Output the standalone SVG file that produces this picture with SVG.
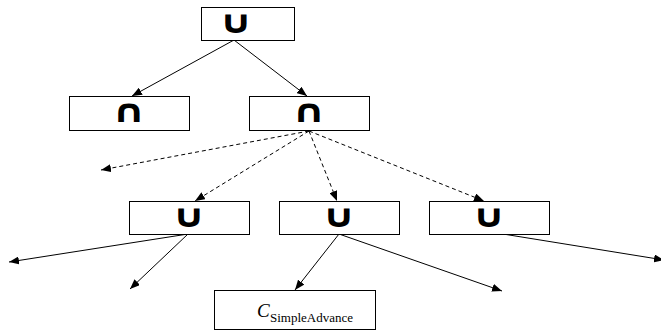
<svg xmlns="http://www.w3.org/2000/svg" width="661" height="334" viewBox="0 0 661 334">
  <style>
    .box { fill: #fff; stroke: #000; stroke-width: 1; }
    .op { font-family: "DejaVu Sans", sans-serif; font-size: 32px; font-weight: bold; text-anchor: middle; }
    .edge { stroke: #000; stroke-width: 1; fill: none; marker-end: url(#arrow); }
    .dash { stroke-dasharray: 4 3; }
  </style>
  <defs>
    <marker id="arrow" viewBox="0 0 10 8" refX="10" refY="4" markerWidth="10" markerHeight="8" markerUnits="userSpaceOnUse" orient="auto">
      <path d="M0,0 L10,4 L0,8 z" fill="#000"/>
    </marker>
  </defs>

  <rect width="661" height="334" fill="#fff"/>

  <g id="connectors">
    <line class="edge" x1="234" y1="40" x2="132" y2="96"/>
    <line class="edge" x1="234" y1="40" x2="307" y2="96"/>
    <line class="edge dash" x1="309" y1="131" x2="101" y2="170"/>
    <line class="edge dash" x1="309" y1="131" x2="195" y2="201"/>
    <line class="edge dash" x1="309" y1="131" x2="337" y2="201"/>
    <line class="edge dash" x1="309" y1="131" x2="484" y2="201"/>
    <line class="edge" x1="188" y1="234" x2="9" y2="262"/>
    <line class="edge" x1="188" y1="234" x2="130" y2="289"/>
    <line class="edge" x1="339" y1="234" x2="295" y2="290"/>
    <line class="edge" x1="339" y1="234" x2="502" y2="291"/>
    <line class="edge" x1="503" y1="234" x2="664" y2="260"/>
  </g>

  <g id="root-union">
    <rect class="box" x="201.5" y="7.5" width="93" height="33"/>
    <text class="op" transform="translate(236,33) scale(1.3,1)">∪</text>
  </g>
  <g id="left-intersection">
    <rect class="box" x="69.5" y="96.5" width="120" height="34"/>
    <text class="op" transform="translate(129,122) scale(1.3,1)">∩</text>
  </g>
  <g id="right-intersection">
    <rect class="box" x="249.5" y="96.5" width="120" height="34"/>
    <text class="op" transform="translate(309,122) scale(1.3,1)">∩</text>
  </g>
  <g id="union-a">
    <rect class="box" x="129.5" y="201.5" width="120" height="33"/>
    <text class="op" transform="translate(189,227) scale(1.3,1)">∪</text>
  </g>
  <g id="union-b">
    <rect class="box" x="279.5" y="201.5" width="120" height="33"/>
    <text class="op" transform="translate(339,227) scale(1.3,1)">∪</text>
  </g>
  <g id="union-c">
    <rect class="box" x="429.5" y="201.5" width="120" height="33"/>
    <text class="op" transform="translate(489,227) scale(1.3,1)">∪</text>
  </g>
  <g id="simple-advance">
    <rect class="box" x="214.5" y="290.5" width="161" height="39"/>
    <text x="257" y="317" font-family="Liberation Serif, serif" font-size="19" font-style="italic">C</text>
    <text x="270" y="322" font-family="Liberation Serif, serif" font-size="13">SimpleAdvance</text>
  </g>
</svg>
